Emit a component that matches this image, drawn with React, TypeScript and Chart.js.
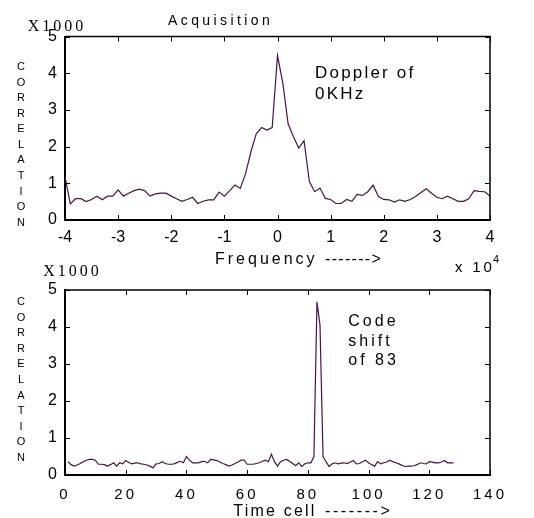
import React, { useEffect, useRef } from "react";
import { Chart, registerables } from "chart.js";

Chart.register(...registerables);

// ---- Data ----
// Top: correlation (x1000) vs Doppler frequency (x 10^4), samples every 0.1 from -4 to 4
const FREQ_CORR = [
  1.18, 0.44, 0.58, 0.58, 0.5, 0.56, 0.65, 0.55, 0.65, 0.65,
  0.82, 0.65, 0.73, 0.8, 0.84, 0.8, 0.65, 0.71, 0.73, 0.73,
  0.65, 0.58, 0.51, 0.56, 0.62, 0.45, 0.51, 0.55, 0.55, 0.76,
  0.65, 0.8, 0.95, 0.86, 1.27, 1.86, 2.35, 2.52, 2.45, 2.52,
  4.48, 3.73, 2.62, 2.27, 1.96, 2.16, 1.05, 0.77, 0.87, 0.59,
  0.56, 0.45, 0.45, 0.56, 0.51, 0.7, 0.67, 0.77, 0.95, 0.64,
  0.56, 0.55, 0.49, 0.55, 0.51, 0.56, 0.64, 0.75, 0.85, 0.73,
  0.62, 0.58, 0.65, 0.58, 0.51, 0.51, 0.58, 0.8, 0.78, 0.77,
  0.65,
];
const FREQ_START = -4;
const FREQ_STEP = 0.1;
const FREQ_TICKS = [-4, -3, -2, -1, 0, 1, 2, 3, 4];

// Bottom: correlation (x1000) vs code shift (time cell 1..128)
const CODE_CORR = [
  0.36, 0.28, 0.24, 0.27, 0.31, 0.36, 0.4, 0.42, 0.42, 0.4,
  0.29, 0.29, 0.28, 0.24, 0.28, 0.33, 0.24, 0.33, 0.3, 0.39,
  0.34, 0.3, 0.32, 0.33, 0.3, 0.29, 0.27, 0.24, 0.19, 0.3,
  0.31, 0.36, 0.31, 0.29, 0.29, 0.3, 0.34, 0.37, 0.33, 0.5,
  0.4, 0.33, 0.33, 0.33, 0.36, 0.37, 0.33, 0.42, 0.41, 0.39,
  0.35, 0.31, 0.28, 0.24, 0.27, 0.31, 0.35, 0.4, 0.4, 0.29,
  0.29, 0.29, 0.31, 0.33, 0.37, 0.4, 0.36, 0.56, 0.36, 0.24,
  0.36, 0.4, 0.42, 0.37, 0.31, 0.25, 0.33, 0.23, 0.3, 0.33,
  0.33, 0.5, 4.68, 4.05, 0.5, 0.36, 0.23, 0.3, 0.33, 0.3,
  0.32, 0.33, 0.31, 0.35, 0.39, 0.3, 0.31, 0.36, 0.4, 0.33,
  0.28, 0.24, 0.36, 0.3, 0.33, 0.35, 0.4, 0.36, 0.33, 0.3,
  0.26, 0.23, 0.24, 0.24, 0.25, 0.28, 0.33, 0.31, 0.3, 0.36,
  0.35, 0.33, 0.33, 0.35, 0.39, 0.33, 0.33, 0.33,
];
const CODE_START = 1;
const CODE_TICKS = [0, 20, 40, 60, 80, 100, 120, 140];

const CORR_TICKS = [0, 1, 2, 3, 4, 5];

// ---- Styles ----
const SANS = '"Liberation Sans", Arial, sans-serif';
const SERIF = '"Liberation Serif", "Times New Roman", serif';
const LINE_COLOR = "#4b1249";

type Txt = {
  text: string;
  x: number;
  y: number;
  size: number;
  spacing?: number;
  family?: string;
  align?: CanvasTextAlign;
};

function verticalWord(word: string, x: number, y0: number, pitch: number): Txt[] {
  return word.split("").map((ch, i) => ({
    text: ch,
    x,
    y: y0 + i * pitch,
    size: 11,
    align: "center" as CanvasTextAlign,
  }));
}

const TOP_TEXTS: Txt[] = [
  { text: "Acquisition", x: 168, y: 25, size: 14, spacing: 3.4 },
  { text: "X1000", x: 27.7, y: 30.7, size: 16, spacing: 3, family: SERIF },
  { text: "Doppler of", x: 315, y: 78.3, size: 17, spacing: 2.2 },
  { text: "0KHz", x: 315, y: 99, size: 17, spacing: 2.2 },
  { text: "Frequency", x: 215, y: 263.5, size: 16, spacing: 3 },
  { text: "------->", x: 325, y: 263.5, size: 16, spacing: 1.3 },
  { text: "x 10", x: 455, y: 271.7, size: 15, spacing: 2.8 },
  { text: "4", x: 493, y: 263, size: 11 },
  ...verticalWord("CORRELATION", 21, 70, 15.57),
];

const BOTTOM_TEXTS: Txt[] = [
  { text: "X1000", x: 43.3, y: 276, size: 16, spacing: 3, family: SERIF },
  { text: "Code", x: 348.3, y: 326, size: 16, spacing: 3 },
  { text: "shift", x: 348.3, y: 345.7, size: 16, spacing: 3 },
  { text: "of 83", x: 348.3, y: 365, size: 16, spacing: 3 },
  { text: "Time cell", x: 233.3, y: 516, size: 16, spacing: 2.2 },
  { text: "------->", x: 325, y: 516, size: 16, spacing: 2.6 },
  ...verticalWord("CORRELATION", 21, 305, 15.6),
];

function textPlugin(items: Txt[], offsetY: number) {
  return {
    id: "pageTexts",
    afterDraw(chart: any) {
      const ctx = chart.ctx as CanvasRenderingContext2D;
      ctx.save();
      ctx.fillStyle = "#000";
      ctx.textBaseline = "alphabetic";
      for (const t of items) {
        ctx.font = `${t.size}px ${t.family || SANS}`;
        (ctx as any).letterSpacing = `${t.spacing || 0}px`;
        ctx.textAlign = t.align || "left";
        ctx.fillText(t.text, t.x, t.y - offsetY);
      }
      ctx.restore();
    },
  };
}

const framePlugin = {
  id: "frameTicks",
  afterDraw(chart: any) {
    const { ctx, chartArea: a, scales } = chart;
    ctx.save();
    ctx.strokeStyle = "#000";
    ctx.lineWidth = 1.5;
    ctx.beginPath();
    ctx.moveTo(a.left, a.top);
    ctx.lineTo(a.right, a.top);
    ctx.lineTo(a.right, a.bottom);
    ctx.stroke();
    ctx.lineWidth = 1;
    const TL = 5;
    ctx.beginPath();
    for (const t of scales.x.ticks) {
      const px = Math.round(scales.x.getPixelForValue(t.value)) + 0.5;
      ctx.moveTo(px, a.bottom);
      ctx.lineTo(px, a.bottom - TL);
      ctx.moveTo(px, a.top);
      ctx.lineTo(px, a.top + TL);
    }
    for (const t of scales.y.ticks) {
      const py = Math.round(scales.y.getPixelForValue(t.value)) + 0.5;
      ctx.moveTo(a.left, py);
      ctx.lineTo(a.left + TL, py);
      ctx.moveTo(a.right, py);
      ctx.lineTo(a.right - TL, py);
    }
    ctx.stroke();
    ctx.restore();
  },
};

function spacingPlugin(px: number) {
  return {
    id: "tickSpacing",
    beforeDraw(chart: any) {
      (chart.ctx as any).letterSpacing = `${px}px`;
    },
  };
}

type Cfg = {
  xs: number[];
  ys: number[];
  xMin: number;
  xMax: number;
  xTicks: number[];
  padTop: number;
  xHeight: number;
  xFont: number;
  xPad: number;
  yFont: number;
  yPad: number;
};

function makeConfig(c: Cfg, plugins: any[]): any {
  return {
    type: "line",
    data: {
      datasets: [
        {
          data: c.xs.map((x, i) => ({ x, y: c.ys[i] })),
          borderColor: LINE_COLOR,
          borderWidth: 1.2,
          pointRadius: 0,
          tension: 0,
          fill: false,
        },
      ],
    },
    options: {
      animation: false,
      responsive: false,
      layout: { padding: { left: 0, right: 44, top: c.padTop, bottom: 0 } },
      plugins: { legend: { display: false }, tooltip: { enabled: false }, title: { display: false } },
      scales: {
        x: {
          type: "linear",
          min: c.xMin,
          max: c.xMax,
          afterBuildTicks: (s: any) => {
            s.ticks = c.xTicks.map((v) => ({ value: v }));
          },
          afterFit: (s: any) => {
            s.height = c.xHeight;
          },
          grid: { display: false, drawTicks: false },
          border: { display: true, color: "#000", width: 2 },
          ticks: {
            color: "#000",
            padding: c.xPad,
            maxRotation: 0,
            autoSkip: false,
            font: { family: SANS, size: c.xFont },
          },
        },
        y: {
          type: "linear",
          min: 0,
          max: 5,
          afterBuildTicks: (s: any) => {
            s.ticks = CORR_TICKS.map((v) => ({ value: v }));
          },
          afterFit: (s: any) => {
            s.width = 65;
          },
          grid: { display: false, drawTicks: false },
          border: { display: true, color: "#000", width: 2 },
          ticks: {
            color: "#000",
            padding: c.yPad,
            autoSkip: false,
            font: { family: SANS, size: c.yFont },
          },
        },
      },
    },
    plugins,
  };
}

const TOP_OFFSET = 0;
const TOP_H = 280;
const BOT_OFFSET = 262;
const BOT_H = 256;

export default function App() {
  const topRef = useRef<HTMLCanvasElement>(null);
  const botRef = useRef<HTMLCanvasElement>(null);

  useEffect(() => {
    const freqX = FREQ_CORR.map((_, i) => Math.round((FREQ_START + i * FREQ_STEP) * 10) / 10);
    const codeX = CODE_CORR.map((_, i) => CODE_START + i);

    const top = new Chart(
      topRef.current as HTMLCanvasElement,
      makeConfig(
        {
          xs: freqX,
          ys: FREQ_CORR,
          xMin: -4,
          xMax: 4,
          xTicks: FREQ_TICKS,
          padTop: 36.5,
          xHeight: TOP_H - 220,
          xFont: 16,
          xPad: 8,
          yFont: 16,
          yPad: 8,
        },
        [framePlugin, textPlugin(TOP_TEXTS, TOP_OFFSET)]
      )
    );
    const bot = new Chart(
      botRef.current as HTMLCanvasElement,
      makeConfig(
        {
          xs: codeX,
          ys: CODE_CORR,
          xMin: 0,
          xMax: 140,
          xTicks: CODE_TICKS,
          padTop: 290 - BOT_OFFSET,
          xHeight: BOT_H - (475 - BOT_OFFSET),
          xFont: 15,
          xPad: 11,
          yFont: 16,
          yPad: 5,
        },
        [spacingPlugin(3), framePlugin, textPlugin(BOTTOM_TEXTS, BOT_OFFSET)]
      )
    );
    return () => {
      top.destroy();
      bot.destroy();
    };
  }, []);

  return (
    <div style={{ position: "absolute", left: 0, top: 0, width: 534, height: 518, background: "#fff", overflow: "hidden" }}>
      <canvas
        ref={topRef}
        width={534}
        height={TOP_H}
        style={{ position: "absolute", left: 0, top: TOP_OFFSET, width: 534, height: TOP_H, display: "block" }}
      />
      <canvas
        ref={botRef}
        width={534}
        height={BOT_H}
        style={{ position: "absolute", left: 0, top: BOT_OFFSET, width: 534, height: BOT_H, display: "block" }}
      />
    </div>
  );
}
